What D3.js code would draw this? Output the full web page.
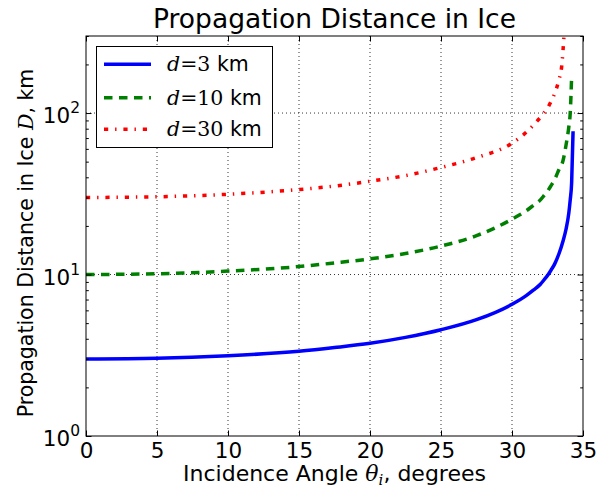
<!DOCTYPE html>
<html>
<head>
  <script type="text/javascript" src="https://cdn.jsdelivr.net/npm/d3@7/dist/d3.min.js"></script>
  <title>Propagation Distance in Ice</title>
  <style>
    body { margin: 0; background: #fff; }
    svg { display: block; }
    text { font-family: "DejaVu Sans", sans-serif; fill: #000; }
  </style>
</head>
<body>

<svg id="chart" width="600" height="491"></svg>

<script>
  // values
  var xTicks = [0, 5, 10, 15, 20, 25, 30, 35];
  var yMajor = [1, 10, 100];
  var yExp = ["0", "1", "2"];

  var anglesBlue = [0, 5, 10, 15, 17.5, 20, 22.5, 25, 27.5, 30, 31, 31.5, 32, 32.25, 32.5, 32.75, 33, 33.3, 33.6, 33.8, 34.0, 34.1, 34.2, 34.3];
  var distBlue   = [3.0, 3.03, 3.14, 3.35, 3.53, 3.75, 4.08, 4.55, 5.25, 6.54, 7.4, 8.0, 8.7, 9.25, 9.85, 10.65, 11.6, 13.4, 16.2, 19.0, 24, 29, 37, 77];

  var anglesGreen = [0, 5, 10, 15, 17.5, 20, 22.5, 25, 27.5, 30, 31, 31.5, 32, 32.25, 32.5, 32.75, 33, 33.3, 33.6, 33.8, 34.0, 34.1, 34.2];
  var distGreen   = [10, 10.1, 10.5, 11.2, 11.8, 12.5, 13.5, 15.0, 17.4, 22.0, 24.8, 26.8, 29, 30.8, 32.8, 35.5, 38.7, 44.5, 51, 63, 82, 100, 168];

  var anglesRed = [0, 5, 10, 15, 17.5, 20, 22.5, 25, 27.5, 30, 31, 31.5, 32, 32.25, 32.5, 32.75, 33, 33.3, 33.5, 33.6, 33.7];
  var distRed   = [30, 30.3, 31.4, 33.6, 35.3, 37.8, 41, 46, 53, 65, 76, 84, 94, 100, 107, 118, 132, 160, 195, 250, 340];

  var seriesNames = ["3", "10", "30"];
  var seriesColors = ["#0000ff", "#008000", "#ff0000"];
  var seriesDash = [null, "8.5,6.5", "4.2,6.9,1.4,6.9"];

  var pLeft = 86, pRight = 583, pTop = 36, pBottom = 436;

  var x = d3.scaleLinear().domain([0, 35]).range([pLeft, pRight]);
  var y = d3.scaleLog().domain([1, 300]).range([pBottom, pTop]);

  var svg = d3.select("#chart");

  // minor ticks inside each decade
  var yMinor = [];
  [1, 10, 100].forEach(function (dec) {
    for (var k = 2; k <= 9; k++) {
      if (dec * k <= 300) yMinor.push(dec * k);
    }
  });

  // grid
  var grid = svg.append("g")
      .attr("stroke", "#000")
      .attr("stroke-width", 0.8)
      .attr("stroke-dasharray", "1,3");
  grid.selectAll(".gx").data(xTicks.slice(1, -1)).enter().append("line")
      .attr("x1", function (d) { return x(d); })
      .attr("x2", function (d) { return x(d); })
      .attr("y1", pTop).attr("y2", pBottom);
  grid.selectAll(".gy").data([10, 100]).enter().append("line")
      .attr("x1", pLeft).attr("x2", pRight)
      .attr("y1", function (d) { return y(d); })
      .attr("y2", function (d) { return y(d); });

  // curves
  svg.append("clipPath").attr("id", "clip")
    .append("rect").attr("x", pLeft).attr("y", pTop)
      .attr("width", pRight - pLeft).attr("height", pBottom - pTop);

  var line = d3.line()
      .x(function (d) { return x(d[0]); })
      .y(function (d) { return y(d[1]); })
      .curve(d3.curveMonotoneX);

  var series = [
    d3.zip(anglesBlue, distBlue),
    d3.zip(anglesGreen, distGreen),
    d3.zip(anglesRed, distRed)
  ];

  var plot = svg.append("g").attr("clip-path", "url(#clip)");
  series.forEach(function (pts, i) {
    plot.append("path")
        .attr("d", line(pts))
        .attr("fill", "none")
        .attr("stroke", seriesColors[i])
        .attr("stroke-width", 3.5)
        .attr("stroke-dasharray", seriesDash[i]);
  });

  // axes, ticks pointing inward
  function clean(g) { g.select(".domain").remove(); g.selectAll("line").attr("stroke", "#000"); }

  svg.append("g").attr("transform", "translate(0," + pBottom + ")")
      .call(d3.axisBottom(x).tickValues(xTicks).tickSize(-5.5).tickPadding(7).tickFormat(d3.format("d")))
      .call(clean)
      .selectAll("text").attr("font-size", 21.5).attr("font-family", "DejaVu Sans");

  svg.append("g").attr("transform", "translate(0," + pTop + ")")
      .call(d3.axisTop(x).tickValues(xTicks).tickSize(-5.5).tickFormat(""))
      .call(clean);

  svg.append("g").attr("transform", "translate(" + pLeft + ",0)")
      .call(d3.axisLeft(y).tickValues(yMajor).tickSize(-5.5).tickFormat(""))
      .call(clean);
  svg.append("g").attr("transform", "translate(" + pLeft + ",0)")
      .call(d3.axisLeft(y).tickValues(yMinor).tickSize(-2.8).tickFormat(""))
      .call(clean);
  svg.append("g").attr("transform", "translate(" + pRight + ",0)")
      .call(d3.axisRight(y).tickValues(yMajor).tickSize(-5.5).tickFormat(""))
      .call(clean);
  svg.append("g").attr("transform", "translate(" + pRight + ",0)")
      .call(d3.axisRight(y).tickValues(yMinor).tickSize(-2.8).tickFormat(""))
      .call(clean);

  // y tick labels 10^n
  var yl = svg.append("g").attr("font-size", 21.5).attr("text-anchor", "end");
  yMajor.forEach(function (v, i) {
    var t = yl.append("text").attr("x", pLeft - 6).attr("y", y(v) + 10);
    t.append("tspan").text("10");
    t.append("tspan").attr("font-size", 15.5).attr("dy", -10).text(yExp[i]);
  });

  // frame
  svg.append("rect")
      .attr("x", pLeft).attr("y", pTop)
      .attr("width", pRight - pLeft).attr("height", pBottom - pTop)
      .attr("fill", "none").attr("stroke", "#000").attr("stroke-width", 1);

  // title and axis labels
  svg.append("text")
      .attr("x", (pLeft + pRight) / 2).attr("y", 28)
      .attr("text-anchor", "middle").attr("font-size", 26.5)
      .text("Propagation Distance in Ice");

  var xl = svg.append("text")
      .attr("x", (pLeft + pRight) / 2).attr("y", 481)
      .attr("text-anchor", "middle").attr("font-size", 22);
  xl.append("tspan").text("Incidence Angle ");
  xl.append("tspan").attr("font-family", "DejaVu Serif").attr("font-style", "italic").text("\u03b8");
  xl.append("tspan").attr("font-family", "DejaVu Serif").attr("font-style", "italic")
      .attr("font-size", 15).attr("dy", 4).text("i");
  xl.append("tspan").attr("dy", -4).text(", degrees");

  var ylab = svg.append("text")
      .attr("transform", "translate(33,243) rotate(-90)")
      .attr("text-anchor", "middle").attr("font-size", 20.5);
  ylab.append("tspan").text("Propagation Distance in Ice ");
  ylab.append("tspan").attr("font-family", "DejaVu Serif").attr("font-style", "italic").text("D");
  ylab.append("tspan").text(", km");

  // legend
  var lg = svg.append("g");
  lg.append("rect")
      .attr("x", 96.5).attr("y", 46.5).attr("width", 176).attr("height", 101)
      .attr("fill", "#fff").attr("stroke", "#000").attr("stroke-width", 1);
  var rowY = [64.3, 97.7, 129.3];
  seriesNames.forEach(function (name, i) {
    lg.append("line")
        .attr("x1", 104).attr("x2", 151)
        .attr("y1", rowY[i]).attr("y2", rowY[i])
        .attr("stroke", seriesColors[i]).attr("stroke-width", 3.5)
        .attr("stroke-dasharray", seriesDash[i]);
    var t = lg.append("text").attr("x", 167).attr("y", rowY[i] + 7).attr("font-size", 20.5);
    t.append("tspan").attr("font-family", "DejaVu Serif").attr("font-style", "italic").text("d");
    t.append("tspan").attr("font-family", "DejaVu Serif").text("=" + name);
    t.append("tspan").text(" km");
  });
</script>

</body>
</html>
